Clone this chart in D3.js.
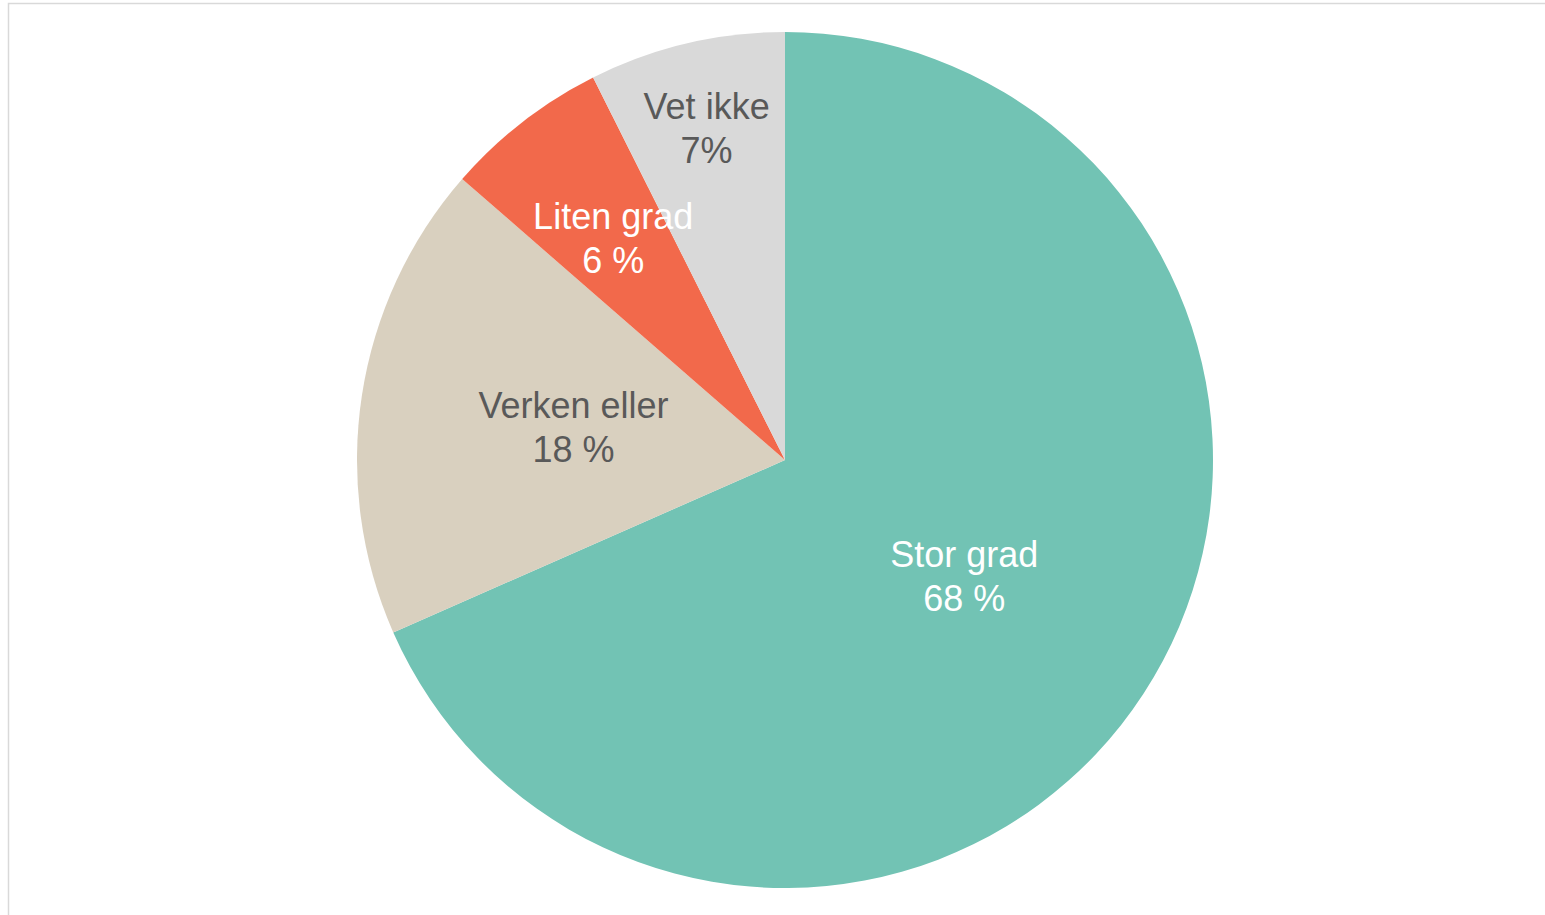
<!DOCTYPE html>
<html>
<head>
<meta charset="utf-8">
<script src="https://cdn.jsdelivr.net/npm/d3@7"></script>
<style>
  html, body { margin: 0; padding: 0; background: #ffffff; }
  svg { display: block; }
</style>
</head>
<body>
<svg id="chart" width="1545" height="915"></svg>
<script>
const categories = ["Stor grad", "Verken eller", "Liten grad", "Vet ikke"];
const values = [68.4, 18.0, 6.2, 7.4];
const valueLabels = ["68 %", "18 %", "6 %", "7%"];
const colors = ["#72C3B4", "#D9D0BF", "#F2694B", "#D9D9D9"];
const textColors = ["#ffffff", "#595959", "#ffffff", "#595959"];
// label distance from centre as a fraction of the radius (best-fit placement)
const labelRadiusFrac = [0.5, 0.5, 0.655, 0.795];

const svg = d3.select("#chart");
const W = 1545, H = 915;

// chart area border
svg.append("rect")
  .attr("x", 8.5).attr("y", 3.5)
  .attr("width", W + 10).attr("height", H + 10)
  .attr("fill", "#ffffff")
  .attr("stroke", "#d9d9d9")
  .attr("stroke-width", 1.5);

const cx = 785, cy = 460, r = 428;
const data = categories.map((c, i) => ({ cat: c, value: values[i], label: valueLabels[i], color: colors[i], tcolor: textColors[i], lr: labelRadiusFrac[i] }));

const pie = d3.pie().value(d => d.value).sort(null);
const arc = d3.arc().innerRadius(0).outerRadius(r);
const arcs = pie(data);

const g = svg.append("g").attr("transform", `translate(${cx},${cy})`);

g.selectAll("path.slice")
  .data(arcs)
  .join("path")
  .attr("class", "slice")
  .attr("d", arc)
  .attr("fill", d => d.data.color);

const fs = 36, lh = 44;
const labels = g.selectAll("text.lbl")
  .data(arcs)
  .join("text")
  .attr("class", "lbl")
  .attr("transform", d => {
    const lrr = d.data.lr * r;
    const c = d3.arc().innerRadius(lrr).outerRadius(lrr).centroid(d);
    return `translate(${c[0]},${c[1]})`;
  })
  .attr("text-anchor", "middle")
  .attr("font-family", "'Liberation Sans', Arial, sans-serif")
  .attr("font-size", fs)
  .attr("fill", d => d.data.tcolor);

labels.append("tspan").attr("x", 0).attr("y", -lh / 2 + fs * 0.34).text(d => d.data.cat);
labels.append("tspan").attr("x", 0).attr("y", lh / 2 + fs * 0.34).text(d => d.data.label);
</script>
</body>
</html>
